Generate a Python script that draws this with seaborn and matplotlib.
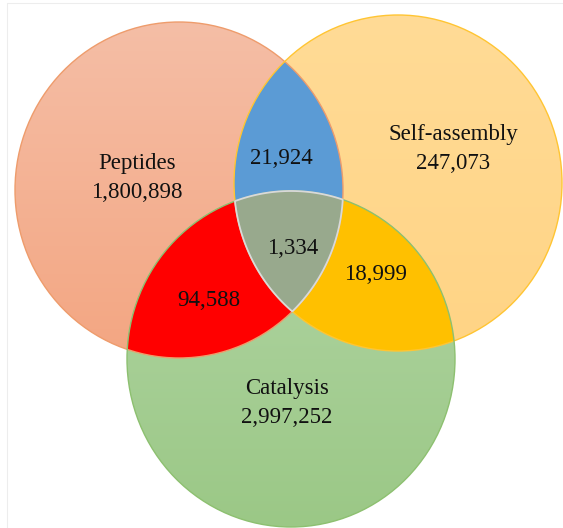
import numpy as np
import seaborn as sns
import matplotlib.pyplot as plt
from matplotlib.patches import Ellipse, Polygon, Rectangle
from matplotlib.colors import LinearSegmentedColormap

# set names and region counts
set_names = ["Peptides", "Self-assembly", "Catalysis"]
only_counts = [1800898, 247073, 2997252]
pair_names = ["Peptides & Self-assembly", "Peptides & Catalysis", "Self-assembly & Catalysis"]
pair_counts = [21924, 94588, 18999]
triple_count = 1334

# layout (pixel space, y down)
centers = [(179, 190), (398, 183), (291, 359)]
width, height = 328, 336
label_pos = [(137, 178), (453, 149), (287, 403)]
pair_pos = [(281, 158), (209, 301), (376, 275)]
triple_pos = (293, 248)

fill_top = ["#F5BEA6", "#FFDB96", "#B1D5A4"]
fill_bottom = ["#F3A682", "#FFD485", "#9BC886"]
edge_cols = ["#EE9C6C", "#FFC533", "#8DC070"]
pair_cols = ["#5B9BD5", "#FF0000", "#FFC000"]
triple_col = "#98A98D"

sns.set_theme(style="white")
plt.rcParams["font.family"] = ["Liberation Serif", "DejaVu Serif"]

fig = plt.figure(figsize=(5.63, 5.28), dpi=100)
ax = fig.add_axes([0, 0, 1, 1])
ax.set_xlim(0, 563)
ax.set_ylim(528, 0)
ax.axis("off")

ax.add_patch(Rectangle((7, 3), 570, 540, fill=False, edgecolor="#EDEDED", lw=0.8))


def inside(pts, c):
    return ((pts[:, 0] - c[0]) / (width / 2)) ** 2 + ((pts[:, 1] - c[1]) / (height / 2)) ** 2 <= 1 + 1e-9


def boundary(c, n=1500):
    t = np.linspace(0, 2 * np.pi, n, endpoint=False)
    return np.column_stack([c[0] + width / 2 * np.cos(t), c[1] + height / 2 * np.sin(t)])


def convex_region(idx):
    pts = np.vstack([boundary(centers[i]) for i in idx])
    for i in idx:
        pts = pts[inside(pts, centers[i])]
    m = pts.mean(axis=0)
    order = np.argsort(np.arctan2(pts[:, 1] - m[1], pts[:, 0] - m[0]))
    return pts[order]


# full circles with a vertical gradient
grad = np.linspace(0, 1, 256).reshape(-1, 1)
for i, c in enumerate(centers):
    e = Ellipse(c, width, height, facecolor="none", edgecolor="none")
    ax.add_patch(e)
    cmap = LinearSegmentedColormap.from_list(f"g{i}", [fill_top[i], fill_bottom[i]])
    im = ax.imshow(grad, cmap=cmap, aspect="auto", interpolation="bilinear",
                   extent=(c[0] - width / 2, c[0] + width / 2, c[1] + height / 2, c[1] - height / 2),
                   zorder=1 + i * 0.1)
    im.set_clip_path(e)
ax.set_xlim(0, 563)
ax.set_ylim(528, 0)

# pairwise overlaps
for pair, col in zip([(0, 1), (0, 2), (1, 2)], pair_cols):
    ax.add_patch(Polygon(convex_region(pair), closed=True, facecolor=col, edgecolor="none", zorder=2))

# outlines
for c, ec in zip(centers, edge_cols):
    ax.add_patch(Ellipse(c, width, height, facecolor="none", edgecolor=ec, lw=1.0, zorder=3))

# centre overlap
ax.add_patch(Polygon(convex_region((0, 1, 2)), closed=True, facecolor=triple_col,
                     edgecolor="#D9D9D9", lw=1.3, zorder=4))

fs = 16.5
for name, n, (x, y) in zip(set_names, only_counts, label_pos):
    ax.text(x, y, f"{name}\n{n:,}", ha="center", va="center", fontsize=fs,
            color="#111111", linespacing=1.55, zorder=5)
for n, (x, y) in zip(pair_counts, pair_pos):
    ax.text(x, y, f"{n:,}", ha="center", va="center", fontsize=fs, color="#111111", zorder=5)
ax.text(triple_pos[0], triple_pos[1], f"{triple_count:,}", ha="center", va="center",
        fontsize=fs, color="#111111", zorder=5)

fig.savefig("out.png", dpi=100, facecolor="white")
